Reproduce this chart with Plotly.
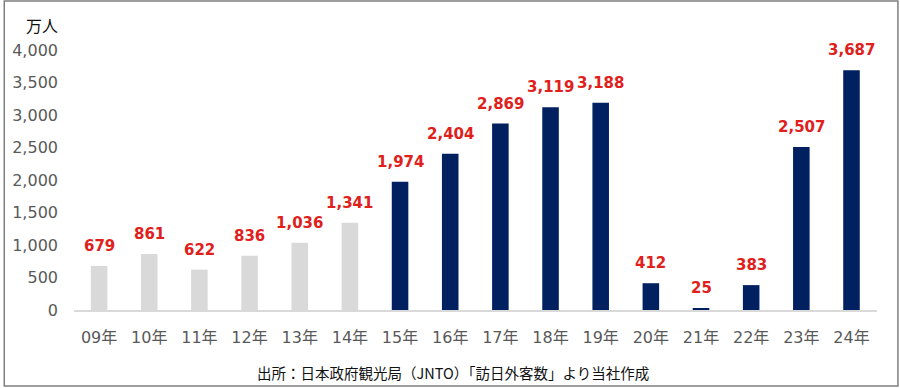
import plotly.graph_objects as go

categories = ["09年", "10年", "11年", "12年", "13年", "14年", "15年", "16年",
              "17年", "18年", "19年", "20年", "21年", "22年", "23年", "24年"]
values = [679, 861, 622, 836, 1036, 1341, 1974, 2404, 2869, 3119, 3188, 412, 25, 383, 2507, 3687]
bar_colors = ["#d9d9d9"] * 6 + ["#002060"] * 10
y_ticks = [0, 500, 1000, 1500, 2000, 2500, 3000, 3500, 4000]
unit_label = "万人"
source_text = "出所：日本政府観光局（JNTO）「訪日外客数」より当社作成"

FONT = "DejaVu Sans, Noto Sans CJK JP, sans-serif"
JFONT = "Noto Sans CJK JP, DejaVu Sans, sans-serif"

fig = go.Figure()
fig.add_trace(go.Bar(
    x=categories, y=values, marker=dict(color=bar_colors, line=dict(width=0)),
    hoverinfo="x+y",
))

for c, v in zip(categories, values):
    fig.add_annotation(
        x=c, y=v, text=f"{v:,}", showarrow=False, yshift=20,
        font=dict(family=FONT, size=15, color="#e0201b", weight="bold"),
    )

L, R, T, B = 71, 23, 50, 78
W, H = 900, 388
pw, ph = W - L - R, H - T - B

def px_x(x):
    return (x - L) / pw

def px_y(y):
    return (H - B - y) / ph

fig.add_annotation(x=px_x(39), y=px_y(25), xref="paper", yref="paper",
                   xanchor="center", yanchor="middle",
                   text=unit_label, showarrow=False,
                   font=dict(family=JFONT, size=16, color="#111111"))
fig.add_annotation(x=px_x(451), y=px_y(372), xref="paper", yref="paper",
                   xanchor="center", yanchor="middle",
                   text=source_text, showarrow=False,
                   font=dict(family=JFONT, size=14.5, color="#111111"))

fig.add_shape(type="rect", xref="paper", yref="paper",
              x0=px_x(1), x1=px_x(898), y0=px_y(386), y1=px_y(1),
              line=dict(color="#7f7f7f", width=1.5), fillcolor="rgba(0,0,0,0)",
              layer="below")

fig.update_layout(
    width=W, height=H,
    margin=dict(l=L, r=R, t=T, b=B),
    paper_bgcolor="white", plot_bgcolor="white",
    bargap=0.67, showlegend=False,
    font=dict(family=FONT, size=16, color="#595959"),
    xaxis=dict(showgrid=False, showline=True, linecolor="#d9d9d9", linewidth=2,
               ticks="", tickfont=dict(family=FONT, size=16, color="#595959"),
               ticklabelstandoff=12, fixedrange=True),
    yaxis=dict(range=[0, 4000], tickvals=y_ticks, ticktext=[f"{t:,}" for t in y_ticks],
               showgrid=False, zeroline=False, showline=False, ticks="",
               tickfont=dict(family=FONT, size=16, color="#595959"), ticklabelstandoff=15,
               fixedrange=True),
)

fig.write_html("out.html", config={"displayModeBar": False},
               post_script="document.body.style.margin='0';document.body.style.overflow='hidden';")
